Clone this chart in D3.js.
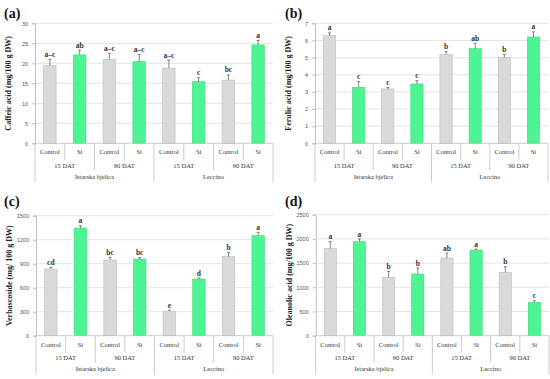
<!DOCTYPE html>
<html>
<head>
<meta charset="utf-8">
<script src="https://cdn.jsdelivr.net/npm/d3@7"></script>
<style>
  body { margin: 0; background: #fff; }
  svg { display: block; font-family: "Liberation Serif", "DejaVu Serif", serif; }
</style>
</head>
<body>
<svg id="chart" width="550" height="379"></svg>
<script>
// leaf categories, repeated under each group
const treatments = ["Control", "Si", "Control", "Si", "Control", "Si", "Control", "Si"];
const times = ["15 DAT", "90 DAT", "15 DAT", "90 DAT"];
const cultivars = ["Istarska bjelica", "Leccino"];

const caffeicMean = [19.4, 22.1, 21.0, 20.4, 18.8, 15.4, 15.8, 24.6];
const caffeicErr  = [1.6, 1.2, 1.5, 1.8, 2.0, 1.0, 1.3, 1.1];
const caffeicSig  = ["a–c", "ab", "a–c", "a–c", "a–c", "c", "bc", "a"];

const ferulicMean = [6.28, 3.27, 3.17, 3.46, 5.19, 5.52, 5.0, 6.2];
const ferulicErr  = [0.16, 0.33, 0.08, 0.19, 0.16, 0.31, 0.19, 0.3];
const ferulicSig  = ["a", "c", "c", "c", "b", "ab", "b", "a"];

const verbascMean = [833, 1346, 946, 958, 308, 708, 988, 1250];
const verbascErr  = [21, 29, 33, 17, 13, 13, 54, 42];
const verbascSig  = ["cd", "a", "bc", "bc", "e", "d", "b", "a"];

const oleanMean = [1804, 1942, 1205, 1274, 1605, 1770, 1308, 689];
const oleanErr  = [138, 55, 124, 124, 103, 20, 117, 34];
const oleanSig  = ["a", "a", "b", "b", "ab", "a", "b", "c"];

const panels = [
  { tag: "(a)", ox: 0, oy: 0, title: "Caffeic acid (mg/100 g DW)", max: 30, step: 5,
    mean: caffeicMean, err: caffeicErr, sig: caffeicSig,
    left: 35, top: 23.3, zero: 143.3, right: 273 },
  { tag: "(b)", ox: 275, oy: 0, title: "Ferulic acid (mg/100 g DW)", max: 7, step: 1,
    mean: ferulicMean, err: ferulicErr, sig: ferulicSig,
    left: 40, top: 23.3, zero: 143.3, right: 273 },
  { tag: "(c)", ox: 0, oy: 189, title: "Verbascoside (mg/ 100 g DW)", max: 1500, step: 300,
    mean: verbascMean, err: verbascErr, sig: verbascSig,
    left: 36, top: 26.7, zero: 146.7, right: 273 },
  { tag: "(d)", ox: 275, oy: 189, title: "Oleanolic acid (mg/100 g DW)", max: 2500, step: 500,
    mean: oleanMean, err: oleanErr, sig: oleanSig,
    left: 40.7, top: 25.7, zero: 146.7, right: 274 }
];

const svg = d3.select("#chart");
const grey = "#d9d9d9", greyEdge = "#bdbdbd", green = "#4cf592", greenEdge = "#3fd77c";
const lineCol = "#bfbfbf";

panels.forEach(p => {
  const g = svg.append("g").attr("transform", `translate(${p.ox},${p.oy})`);

  const x = d3.scaleBand().domain(d3.range(8)).range([p.left, p.right]);
  const y = d3.scaleLinear().domain([0, p.max]).range([p.zero, p.top]);
  const ticks = d3.range(0, p.max + p.step / 2, p.step);

  // gridlines
  g.selectAll(".grid").data(ticks.slice(1)).enter().append("line")
    .attr("x1", p.left).attr("x2", p.right)
    .attr("y1", d => y(d)).attr("y2", d => y(d))
    .attr("stroke", "#dcdcdc").attr("stroke-width", 0.8);

  // y axis
  const yAxis = d3.axisLeft(y).tickValues(ticks).tickFormat(d3.format("d")).tickSize(3).tickPadding(4);
  const ya = g.append("g").attr("transform", `translate(${p.left},0)`).call(yAxis);
  ya.select(".domain").attr("stroke", lineCol);
  ya.selectAll(".tick line").attr("stroke", lineCol);
  ya.selectAll("text").attr("font-size", 5.5).attr("fill", "#555");

  // bars
  g.selectAll(".bar").data(p.mean).enter().append("rect")
    .attr("x", (d, i) => x(i) + x.bandwidth() * 0.29)
    .attr("width", x.bandwidth() * 0.42)
    .attr("y", d => y(d))
    .attr("height", d => p.zero - y(d))
    .attr("fill", (d, i) => i % 2 ? green : grey)
    .attr("stroke", (d, i) => i % 2 ? greenEdge : greyEdge)
    .attr("stroke-width", 0.6);

  // error bars (upper only)
  const cx = i => x(i) + x.bandwidth() / 2;
  p.mean.forEach((m, i) => {
    const top = y(m + p.err[i]);
    g.append("line").attr("x1", cx(i)).attr("x2", cx(i))
      .attr("y1", y(m)).attr("y2", top).attr("stroke", "#666").attr("stroke-width", 0.8);
    g.append("line").attr("x1", cx(i) - 1.5).attr("x2", cx(i) + 1.5)
      .attr("y1", top).attr("y2", top).attr("stroke", "#666").attr("stroke-width", 0.8);
    g.append("text").attr("x", cx(i)).attr("y", top - 2.5)
      .attr("text-anchor", "middle").attr("font-size", 7.5).attr("font-weight", "bold")
      .attr("fill", "#333").text(p.sig[i]);
  });

  // multi-level category axis
  const r1 = p.zero + 17, r2 = r1 + 10, r3 = r2 + 12;
  const ax = g.append("g").attr("stroke", lineCol).attr("stroke-width", 0.8);
  ax.append("line").attr("x1", p.left).attr("x2", p.right).attr("y1", p.zero).attr("y2", p.zero);
  for (let i = 0; i <= 8; i++) {
    const xx = i === 8 ? p.right : x(i);
    const bottom = (i % 4 === 0) ? r3 : (i % 2 === 0 ? r2 : r1);
    ax.append("line").attr("x1", xx).attr("x2", xx).attr("y1", p.zero).attr("y2", bottom);
  }
  g.selectAll(".lvl1").data(treatments).enter().append("text")
    .attr("x", (d, i) => cx(i)).attr("y", p.zero + 11)
    .attr("text-anchor", "middle").attr("font-size", 6.5).attr("fill", "#333").text(d => d);
  g.selectAll(".lvl2").data(times).enter().append("text")
    .attr("x", (d, i) => (x(i * 2) + x(i * 2 + 1) + x.bandwidth()) / 2).attr("y", r1 + 7.5)
    .attr("text-anchor", "middle").attr("font-size", 6.5).attr("fill", "#333").text(d => d);
  g.selectAll(".lvl3").data(cultivars).enter().append("text")
    .attr("x", (d, i) => (x(i * 4) + x(i * 4 + 3) + x.bandwidth()) / 2).attr("y", r2 + 8.5)
    .attr("text-anchor", "middle").attr("font-size", 6.5).attr("fill", "#333").text(d => d);

  // y axis title
  g.append("text")
    .attr("transform", `translate(${p.left - 24},${(p.top + p.zero) / 2}) rotate(-90)`)
    .attr("text-anchor", "middle").attr("font-size", 8).attr("font-weight", "bold")
    .attr("fill", "#222").text(p.title);

  // panel tag
  g.append("text").attr("x", p.tag === "(b)" || p.tag === "(d)" ? 10 : 4)
    .attr("y", p.oy ? 17 : 18).attr("font-size", 14).attr("font-weight", "bold")
    .attr("fill", "#111").text(p.tag);
});
</script>
</body>
</html>
